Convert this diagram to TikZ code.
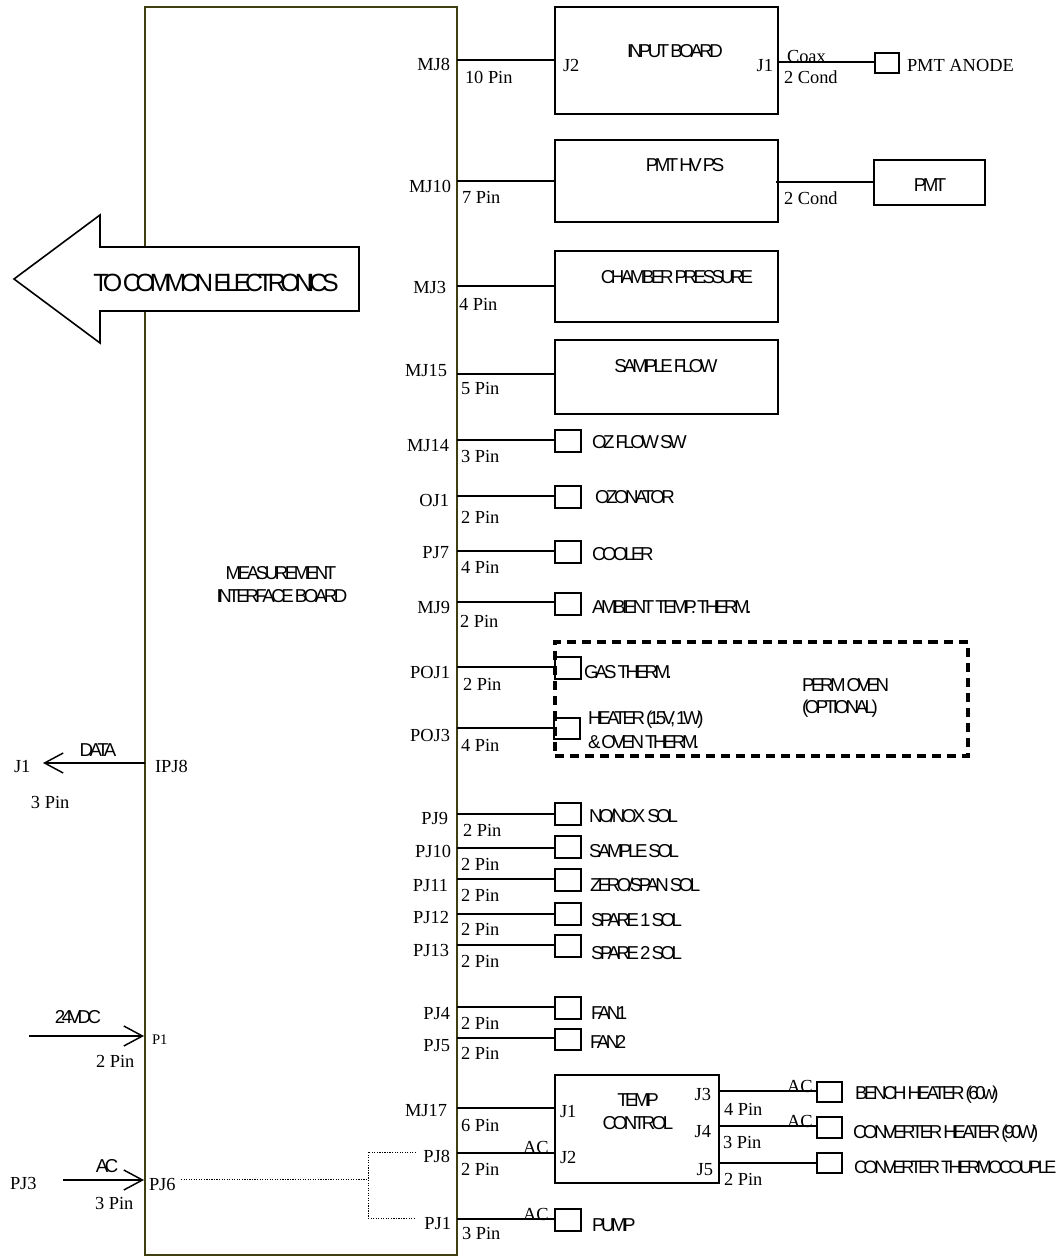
\documentclass[tikz,border=0pt]{standalone}
\usepackage{fontspec}
\usetikzlibrary{arrows.meta,calc}
\setmainfont{Liberation Serif}
\newfontfamily\sanf[LetterSpace=-18.5,WordSpace=0.6]{Liberation Sans}
\newfontfamily\sanbigf[LetterSpace=-21,WordSpace=0.4]{Liberation Sans}
\definecolor{boardcol}{HTML}{3F3F10}
\tikzset{
  x=0.75pt,y=-0.75pt,
  ser/.style={inner sep=0,outer sep=0,anchor=base west,font=\fontsize{13.8}{15}\selectfont},
  serr/.style={inner sep=0,outer sep=0,anchor=base east,font=\fontsize{13.8}{15}\selectfont},
  sersm/.style={ser,font=\fontsize{11}{13}\selectfont},
  san/.style={inner sep=0,outer sep=0,anchor=base west,font=\sanf\fontsize{14}{16}\selectfont},
  sanlong/.style={san,font=\sanf\fontsize{13.5}{16}\selectfont},
  sanc/.style={inner sep=0,outer sep=0,anchor=base,font=\sanf\fontsize{14}{16}\selectfont},
  sanbig/.style={inner sep=0,outer sep=0,anchor=base,font=\sanbigf\fontsize{18.7}{21}\selectfont},
  bigbox/.style={draw,line width=1.5pt,inner sep=0,outer sep=0},
  smallbox/.style={draw,line width=1.1pt,inner sep=0,outer sep=0},
  wire/.style={draw,line width=1.1pt},
  boardbox/.style={draw=boardcol,line width=1.7pt,inner sep=0,outer sep=0},
  oven/.style={draw,line width=2.4pt,dash pattern=on 6.8pt off 4.5pt},
  feed/.style={draw,line width=0.75pt,dash pattern=on 0.9pt off 1pt},
  barb/.style={line width=1.1pt,-{Straight Barb[length=14pt,width=15pt,line width=1.1pt]}},
  bigarrow/.style={draw,fill=white,line width=1.2pt,line join=miter}
}
% name, x1, y1, x2, y2, style
\newcommand\bx[6]{\node[#6,minimum width={(#4-#2)*0.75pt},minimum height={(#5-#3)*0.75pt}] (#1) at ({(#2+#4)/2},{(#3+#5)/2}) {};}
% port on the board's right side: name, y, box
\newcommand\port[3]{\coordinate (#1) at (457,#2); \draw[wire] (#1) -- (#3.west |- #1);}
% text: style, name, x, y, text
\newcommand\tx[5]{\node[#1] (#2) at (#3,#4) {#5};}
\begin{document}
\begin{tikzpicture}
\useasboundingbox (0,0) rectangle (1060,1256);
\bx{board}{145}{7}{457}{1255}{boardbox}

% big arrow
\node[inner sep=0,outer sep=0] (arrowtip) at (14,279) {};
\draw[bigarrow] (arrowtip.center) -- (100,215) -- (100,247) -- (359,247) -- (359,311) -- (100,311) -- (100,343) -- cycle;
\tx{sanbig}{tocommon}{216}{291}{TO COMMON ELECTRONICS}

% large boxes
\bx{inb}{555}{7}{778}{114}{bigbox}
\bx{hv}{555}{140}{778}{222}{bigbox}
\bx{pmt}{874}{160}{985}{205}{smallbox}
\bx{cham}{555}{251}{778}{322}{bigbox}
\bx{samp}{555}{340}{778}{414}{bigbox}
\bx{temp}{555}{1075}{719}{1183}{bigbox}

% small boxes
\bx{anode}{875}{53}{899}{73}{smallbox}
\bx{oz}{555}{430}{581}{452}{smallbox}
\bx{ozon}{555}{486}{581}{508}{smallbox}
\bx{cool}{555}{541}{581}{563}{smallbox}
\bx{amb}{555}{593}{581}{615}{smallbox}
\bx{gas}{555}{657}{581}{679}{smallbox}
\bx{heat}{554}{718}{580}{739}{smallbox}
\bx{nox}{555}{803}{581}{825}{smallbox}
\bx{ssol}{555}{836}{581}{858}{smallbox}
\bx{zero}{555}{869}{581}{891}{smallbox}
\bx{spa}{555}{903}{581}{925}{smallbox}
\bx{spb}{555}{935}{581}{957}{smallbox}
\bx{fana}{555}{997}{581}{1019}{smallbox}
\bx{fanb}{555}{1029}{581}{1050}{smallbox}
\bx{pump}{555}{1209}{581}{1231}{smallbox}
\bx{bench}{817}{1082}{842}{1102}{smallbox}
\bx{conv}{817}{1117}{842}{1138}{smallbox}
\bx{thermo}{817}{1153}{842}{1173}{smallbox}

% perm oven
\bx{ovenbox}{555}{642}{968}{756}{oven}

% wires from the board
\port{pmjeight}{60}{inb}
\port{pmjten}{181}{hv}
\port{pmjthree}{286}{cham}
\port{pmjfifteen}{374}{samp}
\port{pmjfourteen}{440}{oz}
\port{pojone}{496}{ozon}
\port{ppjseven}{551}{cool}
\port{pmjnine}{602}{amb}
\port{ppojone}{667}{gas}
\port{ppojthree}{728}{heat}
\port{ppjnine}{814}{nox}
\port{ppjten}{848}{ssol}
\port{ppjeleven}{879}{zero}
\port{ppjtwelve}{914}{spa}
\port{ppjthirteen}{945}{spb}
\port{ppjfour}{1007}{fana}
\port{ppjfive}{1038}{fanb}
\port{pmjseventeen}{1108}{temp}
\port{ppjeight}{1153}{temp}
\port{ppjone}{1219}{pump}

% wires on the right
\coordinate (coaxout) at (778,62); \draw[wire] (coaxout) -- (anode.west |- coaxout);
\coordinate (hvout) at (776,182); \draw[wire] (hvout) -- (pmt.west |- hvout);
\coordinate (jthree) at (719,1091); \draw[wire] (jthree) -- (bench.west |- jthree);
\coordinate (jfour) at (719,1126); \draw[wire] (jfour) -- (conv.west |- jfour);
\coordinate (jfive) at (719,1163); \draw[wire] (jfive) -- (thermo.west |- jfive);

% arrows on the left
\coordinate (dataout) at (145,763); \coordinate (dataend) at (43,763);
\draw[barb] (dataout) -- (dataend);
\coordinate (dcin) at (29,1036); \coordinate (dcend) at (144,1036);
\draw[barb] (dcin) -- (dcend);
\coordinate (acin) at (63,1180); \coordinate (acend) at (144,1180);
\draw[barb] (acin) -- (acend);

% dotted AC feed
\coordinate (fstart) at (181,1179);
\coordinate (fsplit) at (368,1179);
\coordinate (fa) at (416,1152);
\coordinate (fb) at (416,1218);
\draw[feed] (fstart) -- (fsplit);
\draw[feed] (fa) -- (fsplit |- fa) -- (fsplit |- fb) -- (fb);

% board-side connector labels
\tx{serr}{lmjeight}{450}{71}{MJ8}
\tx{serr}{lmjten}{451}{192}{MJ10}
\tx{serr}{lmjthree}{446}{293}{MJ3}
\tx{serr}{lmjfifteen}{447}{376}{MJ15}
\tx{serr}{lmjfourteen}{449}{451}{MJ14}
\tx{serr}{lojone}{449}{506}{OJ1}
\tx{serr}{lpjseven}{449}{558}{PJ7}
\tx{serr}{lmjnine}{450}{613}{MJ9}
\tx{serr}{lpojone}{450}{678}{POJ1}
\tx{serr}{lpojthree}{450}{741}{POJ3}
\tx{serr}{lpjnine}{448}{824}{PJ9}
\tx{serr}{lpjten}{451}{857}{PJ10}
\tx{serr}{lpjeleven}{448}{891}{PJ11}
\tx{serr}{lpjtwelve}{449}{923}{PJ12}
\tx{serr}{lpjthirteen}{449}{956}{PJ13}
\tx{serr}{lpjfour}{450}{1019}{PJ4}
\tx{serr}{lpjfive}{450}{1051}{PJ5}
\tx{serr}{lmjseventeen}{447}{1116}{MJ17}
\tx{serr}{lpjeight}{450}{1162}{PJ8}
\tx{serr}{lpjone}{451}{1229}{PJ1}
\tx{ser}{lpjsix}{149}{1190}{PJ6}
\tx{sersm}{lpone}{152}{1044}{P1}
\tx{ser}{lpjthree}{10}{1189}{PJ3}
\tx{ser}{lipjeight}{155}{772}{IPJ8}
\tx{ser}{ljonel}{14}{772}{J1}

% pin counts
\tx{ser}{pa}{465}{84}{10 Pin}
\tx{ser}{pb}{462}{203}{7 Pin}
\tx{ser}{pc}{459}{310}{4 Pin}
\tx{ser}{pd}{461}{394}{5 Pin}
\tx{ser}{pe}{461}{462}{3 Pin}
\tx{ser}{pf}{461}{523}{2 Pin}
\tx{ser}{pg}{461}{573}{4 Pin}
\tx{ser}{ph}{460}{627}{2 Pin}
\tx{ser}{pi}{463}{690}{2 Pin}
\tx{ser}{pj}{461}{751}{4 Pin}
\tx{ser}{pk}{463}{836}{2 Pin}
\tx{ser}{pl}{461}{870}{2 Pin}
\tx{ser}{pm}{461}{901}{2 Pin}
\tx{ser}{pn}{461}{935}{2 Pin}
\tx{ser}{po}{461}{967}{2 Pin}
\tx{ser}{pq}{461}{1029}{2 Pin}
\tx{ser}{pr}{461}{1059}{2 Pin}
\tx{ser}{ps}{461}{1131}{6 Pin}
\tx{ser}{pt}{461}{1175}{2 Pin}
\tx{ser}{pu}{462}{1239}{3 Pin}
\tx{ser}{pv}{724}{1115}{4 Pin}
\tx{ser}{pw}{723}{1148}{3 Pin}
\tx{ser}{px}{724}{1185}{2 Pin}
\tx{ser}{py}{96}{1067}{2 Pin}
\tx{ser}{pz}{95}{1209}{3 Pin}
\tx{ser}{paa}{31}{808}{3 Pin}
\tx{ser}{coax}{787}{63}{Coax}
\tx{ser}{conda}{784}{84}{2 Cond}
\tx{ser}{condb}{784}{204}{2 Cond}
\tx{ser}{acthree}{787}{1092}{AC}
\tx{ser}{acfour}{787}{1127}{AC}
\tx{ser}{acj}{523}{1153}{AC}
\tx{ser}{acp}{523}{1220}{AC}

% box connector labels
\tx{ser}{jtwo}{563}{72}{J2}
\tx{serr}{jone}{773}{72}{J1}
\tx{ser}{tjone}{560}{1117}{J1}
\tx{ser}{tjtwo}{560}{1163}{J2}
\tx{serr}{tjthree}{711}{1100}{J3}
\tx{serr}{tjfour}{711}{1137}{J4}
\tx{serr}{tjfive}{713}{1175}{J5}
\tx{ser}{anodelab}{907}{72}{PMT ANODE}

% sans labels
\tx{sanc}{linb}{675}{58}{INPUT BOARD}
\tx{sanc}{lhv}{685}{171}{PMT HV PS}
\tx{sanc}{lpmt}{930}{191}{PMT}
\tx{sanc}{lcham}{677}{283}{CHAMBER PRESSURE}
\tx{sanc}{lsamp}{666}{372}{SAMPLE FLOW}
\tx{san}{loz}{592}{448}{OZ FLOW SW}
\tx{san}{lozon}{595}{503}{OZONATOR}
\tx{san}{lcool}{592}{560}{COOLER}
\tx{san}{lamb}{592}{613}{AMBIENT TEMP. THERM.}
\tx{san}{lgas}{584}{678}{GAS THERM.}
\tx{san}{lheat}{588}{724}{HEATER (15V, 1W)}
\tx{san}{lheatb}{588}{748}{\& OVEN THERM.}
\tx{san}{lperm}{802}{691}{PERM OVEN}
\tx{san}{lopt}{802}{713}{(OPTIONAL)}
\tx{san}{lnox}{589}{822}{NO/NOX~ SOL}
\tx{san}{lssol}{589}{857}{SAMPLE SOL}
\tx{san}{lzero}{590}{891}{ZERO/SPAN SOL}
\tx{san}{lspa}{591}{926}{SPARE 1 SOL}
\tx{san}{lspb}{591}{959}{SPARE 2 SOL}
\tx{san}{lfana}{591}{1019}{FAN1}
\tx{san}{lfanb}{590}{1048}{FAN2}
\tx{sanc}{ltemp}{638}{1106}{TEMP}
\tx{sanc}{lcontrol}{638}{1129}{CONTROL}
\tx{san}{lbench}{855}{1099}{BENCH HEATER (60w)}
\tx{san}{lconv}{853}{1138}{CONVERTER HEATER (90W)}
\tx{sanlong}{lthermo}{854}{1173}{CONVERTER THERMOCOUPLE}
\tx{san}{lpump}{592}{1231}{PUMP}
\tx{sanc}{lmeas}{281}{579}{MEASUREMENT}
\tx{sanc}{lintf}{282}{602}{INTERFACE BOARD}
\tx{sanc}{ldata}{98}{756}{DATA}
\tx{sanc}{ldc}{78}{1023}{24VDC}
\tx{sanc}{lac}{107}{1172}{AC}
\end{tikzpicture}
\end{document}
